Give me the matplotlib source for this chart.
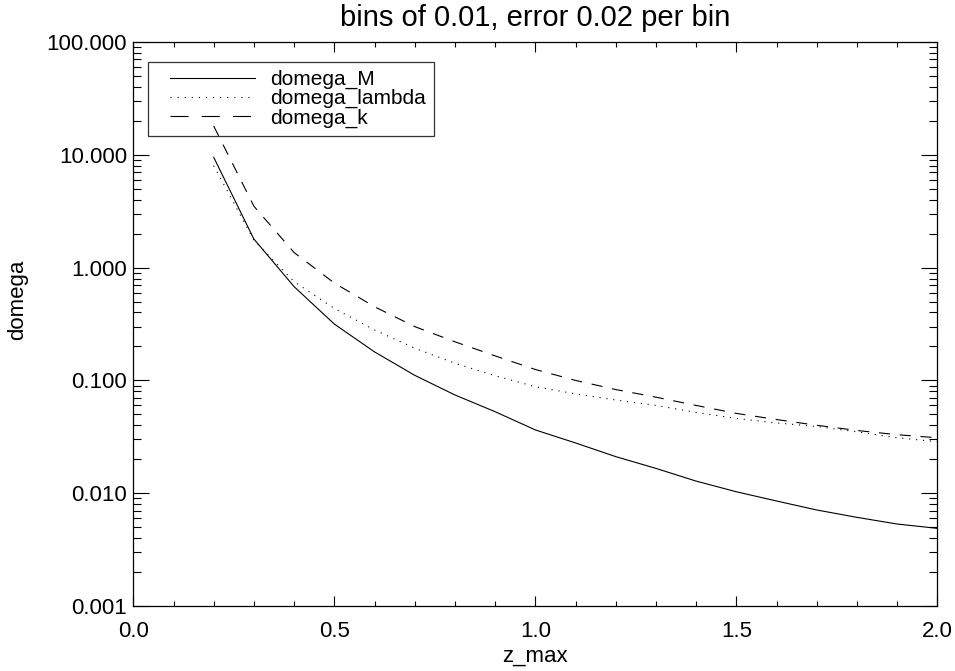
import matplotlib
matplotlib.use("Agg")
import matplotlib.pyplot as plt
from matplotlib.lines import Line2D
from matplotlib.legend_handler import HandlerLine2D
from matplotlib.ticker import MultipleLocator, LogLocator, FixedLocator, FixedFormatter, NullFormatter

plt.rcParams['font.family'] = ['Liberation Sans', 'DejaVu Sans']
plt.rcParams['lines.scale_dashes'] = False

z_max = [0.2, 0.3, 0.4, 0.5, 0.6, 0.7, 0.8, 0.9, 1.0, 1.1, 1.2, 1.3, 1.4, 1.5, 1.6, 1.7, 1.8, 1.9, 2.0]
domega_M = [9.5, 1.79, 0.678, 0.316, 0.179, 0.111, 0.0743, 0.0528, 0.0364, 0.0279, 0.0211,
            0.0166, 0.0128, 0.0103, 0.00853, 0.0071, 0.00611, 0.00533, 0.00488]
domega_lambda = [8.0, 1.75, 0.75, 0.435, 0.28, 0.193, 0.142, 0.11, 0.088, 0.076, 0.067,
                 0.060, 0.052, 0.046, 0.042, 0.039, 0.035, 0.031, 0.0286]
domega_k = [18.0, 3.5, 1.36, 0.73, 0.45, 0.30, 0.22, 0.165, 0.125, 0.10, 0.083,
            0.071, 0.060, 0.051, 0.045, 0.040, 0.036, 0.033, 0.031]
series_names = ['domega_M', 'domega_lambda', 'domega_k']

y_ticks = [0.001, 0.01, 0.1, 1.0, 10.0, 100.0]
y_ticklabels = ['0.001', '0.010', '0.100', '1.000', '10.000', '100.000']
x_ticks = [0.0, 0.5, 1.0, 1.5, 2.0]
x_ticklabels = ['0.0', '0.5', '1.0', '1.5', '2.0']

fig = plt.figure(figsize=(9.55, 6.71), dpi=100)
ax = fig.add_axes([133.3 / 955, 1 - 606 / 671, (937.3 - 133.3) / 955, (606 - 42) / 671])

lw = 0.8
styles = ['-', (0, (0.8, 4.2)), (0, (8.0, 7.0))]
legend_styles = ['-', (0, (0.8, 4.3)), (0, (13.0, 9.5))]
for vals, name, ls in zip([domega_M, domega_lambda, domega_k], series_names, styles):
    ax.plot(z_max, vals, color='black', lw=lw, linestyle=ls, label=name)

ax.set_yscale('log')
ax.set_xlim(0, 2.0)
ax.set_ylim(0.001, 100)

ax.xaxis.set_major_locator(FixedLocator(x_ticks))
ax.xaxis.set_major_formatter(FixedFormatter(x_ticklabels))
ax.xaxis.set_minor_locator(MultipleLocator(0.1))
ax.yaxis.set_major_locator(FixedLocator(y_ticks))
ax.yaxis.set_major_formatter(FixedFormatter(y_ticklabels))
ax.yaxis.set_minor_locator(LogLocator(base=10, subs=range(2, 10), numticks=20))
ax.yaxis.set_minor_formatter(NullFormatter())

ax.tick_params(axis='x', which='both', direction='in', top=True, bottom=True, labelsize=16, pad=11, width=0.8)
ax.tick_params(axis='x', which='major', length=7.2)
ax.tick_params(axis='x', which='minor', length=3.6)
ax.tick_params(axis='y', which='both', direction='in', left=True, right=True, labelsize=16, pad=4.5, width=0.8)
ax.tick_params(axis='y', which='major', length=11.5)
ax.tick_params(axis='y', which='minor', length=5.8)
for s in ax.spines.values():
    s.set_linewidth(0.9)

fig.text(535.3 / 955, 1 - 18 / 671, 'bins of 0.01, error 0.02 per bin', fontsize=21, ha='center', va='center')
fig.text(535.3 / 955, 1 - 656 / 671, 'z_max', fontsize=16, ha='center', va='center')
fig.text(18 / 955, 1 - 300 / 671, 'domega', rotation=90, fontsize=16, ha='center', va='center')

proxies = [Line2D([], [], color='black', lw=lw, linestyle=ls) for ls in legend_styles]
fs = 15
fs_px = fs * 100 / 72
bpad_px = 8
xpad = (170 - 148.3 - bpad_px) / fs_px
leg = ax.legend(proxies, series_names, loc='upper left',
                bbox_to_anchor=((148.3 - 133.3) / 804, 1 - (62 - 42) / 564),
                fontsize=fs, frameon=True, fancybox=False,
                handlelength=(255 - 148.3 - bpad_px) / fs_px, handletextpad=15 / fs_px,
                borderaxespad=0, labelspacing=0.0, borderpad=bpad_px / fs_px,
                handler_map={Line2D: HandlerLine2D(xpad=xpad)})
leg.get_frame().set_edgecolor('black')
leg.get_frame().set_facecolor('none')
leg.get_frame().set_linewidth(0.9)

fig.savefig('out.png', dpi=100)
